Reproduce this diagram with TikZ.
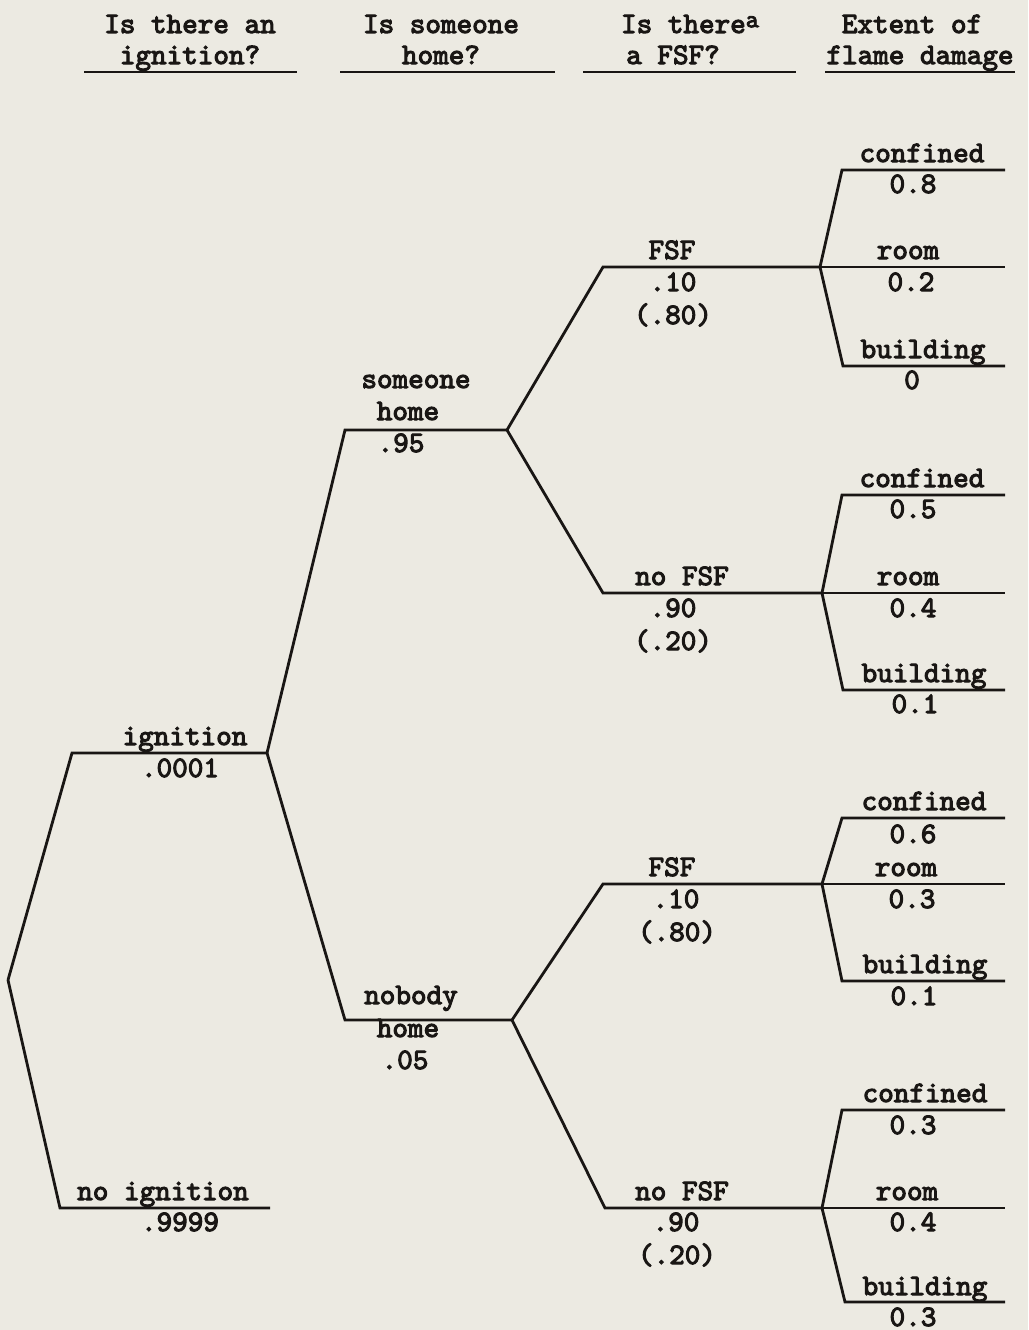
\documentclass[tikz,border=0pt]{standalone}
\usepackage{fontspec}
\newfontfamily\labfont{lmmono10-regular.otf}[FakeBold=3.5]
\definecolor{paper}{RGB}{236,234,226}
\definecolor{ink}{RGB}{25,22,20}
\begin{document}
\begin{tikzpicture}[x=1pt,y=-1pt,
  tl/.style={draw=ink,line width=2.8pt,line join=miter},
  lab/.style={anchor=base,inner sep=0pt,text=ink,font=\fontsize{29.7}{32}\selectfont\labfont},
  hd/.style={anchor=base,inner sep=0pt,text=ink,font=\fontsize{29.7}{32}\selectfont\labfont},
  ul/.style={draw=ink,line width=2.8pt}]
\fill[paper] (0,0) rectangle (1028,1330);
\useasboundingbox (0,0) rectangle (1028,1330);
% headers
\node[hd] (h1a) at (190,33) {Is there an};
\node[hd] (h1b) at (190,64) {ignition?};
\node[hd] (h2a) at (441,33) {Is someone};
\node[hd] (h2b) at (441,64) {home?};
\node[hd] (h3a) at (690,33) {Is there\raisebox{0.45ex}{\fontsize{25}{26}\selectfont a}};
\node[hd] (h3b) at (673,64) {a FSF?};
\node[hd] (h4a) at (912,33) {Extent of};
\node[hd] (h4b) at (920,64) {flame damage};
\coordinate (u1a) at (84,72);  \coordinate (u1b) at (297,72);
\coordinate (u2a) at (340,72); \coordinate (u2b) at (555,72);
\coordinate (u3a) at (583,72); \coordinate (u3b) at (796,72);
\coordinate (u4a) at (825,72); \coordinate (u4b) at (1015,72);
\draw[ul] (u1a) -- (u1b);
\draw[ul] (u2a) -- (u2b);
\draw[ul] (u3a) -- (u3b);
\draw[ul] (u4a) -- (u4b);
% tree coordinates
\coordinate (root) at (8,980);
\coordinate (ig1) at (72,753);   \coordinate (ig2) at (267,753);
\coordinate (ni1) at (60,1208);  \coordinate (ni2) at (270,1208);
\coordinate (sh1) at (345,430);  \coordinate (sh2) at (507,430);
\coordinate (nh1) at (345,1020); \coordinate (nh2) at (512,1020);
\coordinate (f1a) at (603,267);  \coordinate (f1b) at (820,267);
\coordinate (n1a) at (603,593);  \coordinate (n1b) at (822,593);
\coordinate (f2a) at (603,884);  \coordinate (f2b) at (822,884);
\coordinate (n2a) at (605,1208); \coordinate (n2b) at (822,1208);
\coordinate (c1a) at (842,170);  \coordinate (c1b) at (1005,170);
\coordinate (r1b) at (1005,267);
\coordinate (b1a) at (843,366);  \coordinate (b1b) at (1005,366);
\coordinate (c2a) at (842,495);  \coordinate (c2b) at (1005,495);
\coordinate (r2b) at (1005,593);
\coordinate (b2a) at (843,690);  \coordinate (b2b) at (1005,690);
\coordinate (c3a) at (842,818);  \coordinate (c3b) at (1005,818);
\coordinate (r3b) at (1005,884);
\coordinate (b3a) at (842,981);  \coordinate (b3b) at (1005,981);
\coordinate (c4a) at (842,1110); \coordinate (c4b) at (1005,1110);
\coordinate (r4b) at (1005,1208);
\coordinate (b4a) at (845,1302); \coordinate (b4b) at (1005,1302);
% tree lines
\draw[tl] (root) -- (ig1) -- (ig2);
\draw[tl] (root) -- (ni1) -- (ni2);
\draw[tl] (ig2) -- (sh1) -- (sh2);
\draw[tl] (ig2) -- (nh1) -- (nh2);
\draw[tl] (sh2) -- (f1a) -- (f1b);
\draw[tl] (sh2) -- (n1a) -- (n1b);
\draw[tl] (nh2) -- (f2a) -- (f2b);
\draw[tl] (nh2) -- (n2a) -- (n2b);
\draw[tl] (f1b) -- (c1a) -- (c1b);
\draw[tl] (f1b) -- (r1b);
\draw[tl] (f1b) -- (b1a) -- (b1b);
\draw[tl] (n1b) -- (c2a) -- (c2b);
\draw[tl] (n1b) -- (r2b);
\draw[tl] (n1b) -- (b2a) -- (b2b);
\draw[tl] (f2b) -- (c3a) -- (c3b);
\draw[tl] (f2b) -- (r3b);
\draw[tl] (f2b) -- (b3a) -- (b3b);
\draw[tl] (n2b) -- (c4a) -- (c4b);
\draw[tl] (n2b) -- (r4b);
\draw[tl] (n2b) -- (b4a) -- (b4b);
% level 1 labels
\node[lab] (lig) at (185,745) {ignition};
\node[lab] (pig) at (180,777) {.0001};
\node[lab] (lni) at (163,1200) {no ignition};
\node[lab] (pni) at (180,1231) {.9999};
% level 2 labels
\node[lab] (lsh1) at (416,388) {someone};
\node[lab] (lsh2) at (408,420) {home};
\node[lab] (psh) at (401,452) {.95};
\node[lab] (lnh1) at (411,1004) {nobody};
\node[lab] (lnh2) at (408,1037) {home};
\node[lab] (pnh) at (405,1069) {.05};
% level 3 labels
\node[lab] (lf1) at (672,259) {FSF};
\node[lab] (pf1) at (673,291) {.10};
\node[lab] (qf1) at (673,324) {(.80)};
\node[lab] (ln1) at (682,585) {no FSF};
\node[lab] (pn1) at (673,617) {.90};
\node[lab] (qn1) at (673,650) {(.20)};
\node[lab] (lf2) at (672,876) {FSF};
\node[lab] (pf2) at (676,908) {.10};
\node[lab] (qf2) at (677,941) {(.80)};
\node[lab] (ln2) at (682,1200) {no FSF};
\node[lab] (pn2) at (676,1231) {.90};
\node[lab] (qn2) at (677,1264) {(.20)};
% level 4 labels
\node[lab] (lc1) at (922,162) {confined};
\node[lab] (pc1) at (913,193) {0.8};
\node[lab] (lr1) at (908,259) {room};
\node[lab] (pr1) at (911,291) {0.2};
\node[lab] (lb1) at (923,358) {building};
\node[lab] (pb1) at (912,389) {0};
\node[lab] (lc2) at (922,487) {confined};
\node[lab] (pc2) at (913,518) {0.5};
\node[lab] (lr2) at (908,585) {room};
\node[lab] (pr2) at (913,617) {0.4};
\node[lab] (lb2) at (924,682) {building};
\node[lab] (pb2) at (915,713) {0.1};
\node[lab] (lc3) at (924,810) {confined};
\node[lab] (pc3) at (913,843) {0.6};
\node[lab] (lr3) at (906,876) {room};
\node[lab] (pr3) at (912,908) {0.3};
\node[lab] (lb3) at (925,973) {building};
\node[lab] (pb3) at (914,1005) {0.1};
\node[lab] (lc4) at (925,1102) {confined};
\node[lab] (pc4) at (913,1134) {0.3};
\node[lab] (lr4) at (907,1200) {room};
\node[lab] (pr4) at (913,1231) {0.4};
\node[lab] (lb4) at (925,1295) {building};
\node[lab] (pb4) at (913,1326) {0.3};
\end{tikzpicture}
\end{document}
